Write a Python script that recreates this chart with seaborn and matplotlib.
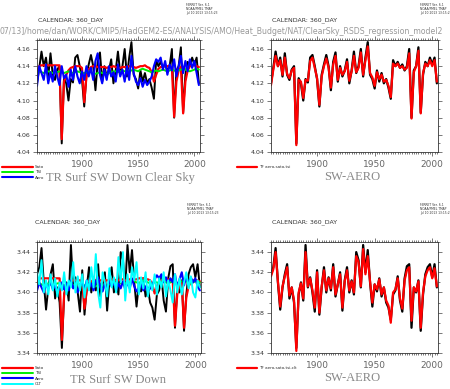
import matplotlib
matplotlib.use("Agg")
import matplotlib.pyplot as plt
import pandas as pd
import seaborn as sns
from matplotlib.ticker import MultipleLocator, FormatStrFormatter

sns.set_style("ticks")
plt.rcParams['font.family'] = ['DejaVu Sans']

# Anos (passo de 2 anos)
years = [1860, 1862, 1864, 1866, 1868, 1870, 1872, 1874, 1876, 1878,
         1880, 1882, 1884, 1886, 1888, 1890, 1892, 1894, 1896, 1898,
         1900, 1902, 1904, 1906, 1908, 1910, 1912, 1914, 1916, 1918,
         1920, 1922, 1924, 1926, 1928, 1930, 1932, 1934, 1936, 1938,
         1940, 1942, 1944, 1946, 1948, 1950, 1952, 1954, 1956, 1958,
         1960, 1962, 1964, 1966, 1968, 1970, 1972, 1974, 1976, 1978,
         1980, 1982, 1984, 1986, 1988, 1990, 1992, 1994, 1996, 1998,
         2000, 2002, 2004]

# --- Clear sky (painel de cima) ---
cs_total = [4.120, 4.138, 4.157, 4.140, 4.150, 4.128, 4.155, 4.130, 4.124, 4.136,
            4.140, 4.050, 4.126, 4.120, 4.100, 4.125, 4.121, 4.150, 4.153, 4.140,
            4.125, 4.093, 4.130, 4.142, 4.153, 4.140, 4.112, 4.145, 4.156, 4.122,
            4.140, 4.128, 4.135, 4.148, 4.120, 4.135, 4.157, 4.132, 4.140, 4.160,
            4.128, 4.150, 4.168, 4.130, 4.125, 4.114, 4.135, 4.122, 4.132, 4.120,
            4.125, 4.115, 4.102, 4.147, 4.140, 4.145, 4.138, 4.142, 4.135, 4.140,
            4.160, 4.080, 4.135, 4.140, 4.162, 4.086, 4.130, 4.145, 4.140, 4.150,
            4.142, 4.150, 4.120]
cs_sato = [4.134, 4.140, 4.141, 4.141, 4.141, 4.141, 4.141, 4.141, 4.141, 4.141,
           4.141, 4.055, 4.122, 4.130, 4.135, 4.138, 4.139, 4.140, 4.140, 4.140,
           4.138, 4.098, 4.128, 4.136, 4.139, 4.140, 4.140, 4.139, 4.139, 4.139,
           4.139, 4.138, 4.139, 4.139, 4.140, 4.139, 4.138, 4.138, 4.139, 4.139,
           4.139, 4.140, 4.140, 4.139, 4.138, 4.139, 4.140, 4.140, 4.141, 4.139,
           4.138, 4.133, 4.122, 4.130, 4.137, 4.139, 4.140, 4.140, 4.140, 4.140,
           4.138, 4.081, 4.122, 4.135, 4.139, 4.085, 4.122, 4.135, 4.140, 4.141,
           4.141, 4.140, 4.139]
cs_tsi = [4.133, 4.134, 4.133, 4.132, 4.133, 4.134, 4.133, 4.132, 4.133, 4.133,
          4.134, 4.133, 4.132, 4.133, 4.134, 4.133, 4.132, 4.133, 4.134, 4.133,
          4.132, 4.132, 4.133, 4.134, 4.133, 4.132, 4.131, 4.132, 4.133, 4.132,
          4.131, 4.131, 4.132, 4.133, 4.134, 4.134, 4.133, 4.134, 4.135, 4.134,
          4.135, 4.134, 4.135, 4.136, 4.135, 4.134, 4.136, 4.137, 4.136, 4.135,
          4.134, 4.133, 4.134, 4.135, 4.134, 4.135, 4.136, 4.135, 4.134, 4.135,
          4.136, 4.135, 4.134, 4.135, 4.136, 4.137, 4.136, 4.135, 4.134, 4.135,
          4.136, 4.137, 4.136]
cs_aero = [4.117, 4.140, 4.132, 4.124, 4.142, 4.120, 4.133, 4.122, 4.140, 4.128,
           4.118, 4.140, 4.126, 4.130, 4.116, 4.136, 4.124, 4.140, 4.128, 4.120,
           4.134, 4.124, 4.140, 4.128, 4.138, 4.124, 4.146, 4.155, 4.130, 4.120,
           4.136, 4.124, 4.140, 4.128, 4.133, 4.122, 4.142, 4.128, 4.136, 4.122,
           4.140, 4.124, 4.152, 4.132, 4.122, 4.118, 4.126, 4.116, 4.124, 4.118,
           4.122, 4.128, 4.140, 4.148, 4.145, 4.150, 4.136, 4.146, 4.130, 4.142,
           4.135, 4.148, 4.128, 4.140, 4.152, 4.132, 4.146, 4.134, 4.148, 4.138,
           4.146, 4.132, 4.118]
cs_fit = [4.118, 4.136, 4.152, 4.140, 4.147, 4.130, 4.150, 4.131, 4.126, 4.135,
          4.138, 4.048, 4.124, 4.122, 4.103, 4.124, 4.123, 4.146, 4.150, 4.138,
          4.126, 4.095, 4.128, 4.140, 4.149, 4.138, 4.115, 4.142, 4.152, 4.124,
          4.138, 4.130, 4.134, 4.145, 4.123, 4.134, 4.152, 4.133, 4.138, 4.156,
          4.130, 4.147, 4.163, 4.132, 4.127, 4.117, 4.133, 4.125, 4.130, 4.122,
          4.124, 4.117, 4.104, 4.143, 4.140, 4.143, 4.138, 4.140, 4.136, 4.138,
          4.155, 4.079, 4.133, 4.140, 4.158, 4.085, 4.132, 4.143, 4.140, 4.147,
          4.140, 4.147, 4.122]

# --- All sky (painel de baixo) ---
as_total = [3.418, 3.425, 3.444, 3.410, 3.383, 3.405, 3.418, 3.428, 3.394, 3.405,
            3.390, 3.345, 3.398, 3.410, 3.392, 3.447, 3.405, 3.415, 3.400, 3.381,
            3.422, 3.378, 3.405, 3.425, 3.400, 3.415, 3.402, 3.428, 3.396, 3.408,
            3.420, 3.382, 3.412, 3.425, 3.400, 3.412, 3.398, 3.440, 3.432, 3.405,
            3.447, 3.420, 3.442, 3.410, 3.386, 3.408, 3.401, 3.414, 3.396, 3.405,
            3.390, 3.385, 3.373, 3.398, 3.402, 3.416, 3.392, 3.381, 3.414, 3.426,
            3.428, 3.365, 3.405, 3.400, 3.412, 3.362, 3.398, 3.418, 3.425, 3.428,
            3.415, 3.428, 3.405]
as_sato = [3.410, 3.414, 3.414, 3.414, 3.414, 3.414, 3.414, 3.414, 3.414, 3.414,
           3.414, 3.353, 3.398, 3.405, 3.409, 3.411, 3.412, 3.412, 3.412, 3.412,
           3.411, 3.384, 3.402, 3.409, 3.411, 3.412, 3.412, 3.412, 3.412, 3.412,
           3.412, 3.412, 3.412, 3.413, 3.413, 3.412, 3.412, 3.413, 3.413, 3.412,
           3.412, 3.413, 3.413, 3.413, 3.413, 3.414, 3.414, 3.414, 3.413, 3.413,
           3.412, 3.408, 3.399, 3.406, 3.410, 3.412, 3.413, 3.413, 3.413, 3.413,
           3.412, 3.367, 3.398, 3.408, 3.411, 3.365, 3.395, 3.406, 3.410, 3.412,
           3.412, 3.412, 3.411]
as_tsi = [3.408, 3.409, 3.408, 3.407, 3.408, 3.409, 3.408, 3.407, 3.408, 3.409,
          3.409, 3.408, 3.407, 3.408, 3.409, 3.408, 3.407, 3.408, 3.409, 3.408,
          3.407, 3.407, 3.408, 3.409, 3.408, 3.407, 3.406, 3.407, 3.408, 3.407,
          3.406, 3.407, 3.408, 3.409, 3.410, 3.409, 3.408, 3.409, 3.410, 3.409,
          3.410, 3.410, 3.411, 3.411, 3.410, 3.409, 3.411, 3.412, 3.411, 3.410,
          3.409, 3.409, 3.410, 3.410, 3.409, 3.410, 3.411, 3.410, 3.409, 3.410,
          3.411, 3.410, 3.409, 3.410, 3.411, 3.412, 3.411, 3.410, 3.409, 3.410,
          3.411, 3.411, 3.410]
as_aero = [3.402, 3.410, 3.405, 3.400, 3.408, 3.404, 3.411, 3.403, 3.407, 3.400,
           3.405, 3.410, 3.403, 3.409, 3.402, 3.412, 3.404, 3.409, 3.400, 3.407,
           3.410, 3.403, 3.412, 3.405, 3.409, 3.402, 3.411, 3.415, 3.405, 3.401,
           3.409, 3.403, 3.412, 3.406, 3.410, 3.402, 3.409, 3.404, 3.411, 3.403,
           3.410, 3.404, 3.414, 3.406, 3.401, 3.404, 3.408, 3.402, 3.406, 3.401,
           3.404, 3.408, 3.413, 3.417, 3.414, 3.418, 3.410, 3.415, 3.408, 3.414,
           3.410, 3.418, 3.405, 3.413, 3.420, 3.407, 3.416, 3.408, 3.415, 3.410,
           3.414, 3.406, 3.402]
as_clt = [3.420, 3.408, 3.432, 3.400, 3.412, 3.398, 3.418, 3.402, 3.414, 3.396,
          3.410, 3.402, 3.420, 3.398, 3.412, 3.405, 3.430, 3.400, 3.416, 3.402,
          3.418, 3.395, 3.412, 3.402, 3.425, 3.405, 3.438, 3.400, 3.385, 3.420,
          3.410, 3.396, 3.424, 3.405, 3.415, 3.400, 3.435, 3.410, 3.440, 3.392,
          3.418, 3.400, 3.425, 3.412, 3.430, 3.398, 3.415, 3.404, 3.420, 3.396,
          3.412, 3.402, 3.418, 3.398, 3.414, 3.405, 3.420, 3.396, 3.412, 3.402,
          3.390, 3.418, 3.400, 3.414, 3.398, 3.410, 3.420, 3.404, 3.416, 3.400,
          3.395, 3.412, 3.405]
as_fit = [3.416, 3.423, 3.440, 3.411, 3.386, 3.406, 3.416, 3.425, 3.397, 3.405,
          3.392, 3.342, 3.400, 3.409, 3.394, 3.440, 3.406, 3.414, 3.402, 3.385,
          3.420, 3.380, 3.406, 3.422, 3.402, 3.414, 3.404, 3.425, 3.398, 3.408,
          3.418, 3.385, 3.411, 3.422, 3.402, 3.411, 3.400, 3.436, 3.430, 3.406,
          3.443, 3.418, 3.436, 3.411, 3.390, 3.408, 3.403, 3.413, 3.398, 3.405,
          3.392, 3.387, 3.370, 3.400, 3.403, 3.414, 3.394, 3.384, 3.412, 3.422,
          3.425, 3.372, 3.405, 3.401, 3.411, 3.365, 3.400, 3.416, 3.422, 3.425,
          3.414, 3.424, 3.406]

clear = pd.DataFrame({'year': years, 'total': cs_total, 'sato': cs_sato,
                      'tsi': cs_tsi, 'aero': cs_aero, 'fit': cs_fit})
allsky = pd.DataFrame({'year': years, 'total': as_total, 'sato': as_sato,
                       'tsi': as_tsi, 'aero': as_aero, 'clt': as_clt, 'fit': as_fit})

W, H = 450, 389
fig = plt.figure(figsize=(W / 100, H / 100), dpi=100)
fig.patch.set_facecolor('white')


def box(x0, y0, x1, y1):
    return [x0 / W, 1 - y1 / H, (x1 - x0) / W, (y1 - y0) / H]


def estilo(ax, ylim):
    ax.set_xlim(1860, 2005)
    ax.set_ylim(*ylim)
    ax.xaxis.set_major_locator(MultipleLocator(50))
    ax.xaxis.set_minor_locator(MultipleLocator(2))
    ax.yaxis.set_major_locator(MultipleLocator(0.02))
    ax.yaxis.set_minor_locator(MultipleLocator(0.01))
    ax.yaxis.set_major_formatter(FormatStrFormatter('%.2f'))
    ax.tick_params(which='both', top=True, right=True, direction='out',
                   width=0.5, color='#444')
    ax.tick_params(which='major', length=3)
    ax.tick_params(which='minor', length=1.5)
    ax.tick_params(axis='x', labelsize=6.5, labelcolor='#666', pad=2.5)
    ax.tick_params(axis='y', labelsize=4.5, labelcolor='#333', pad=1.5)
    for s in ax.spines.values():
        s.set_linewidth(0.6)
        s.set_color('#333')
    ax.set_xlabel('')
    ax.set_ylabel('')


def legenda(ax, x, y, hl, fs=3):
    ax.legend(loc='upper left', bbox_to_anchor=(x / W, 1 - y / H),
              bbox_transform=fig.transFigure, fontsize=fs, frameon=False,
              handlelength=hl, handletextpad=0.5, labelspacing=0.35,
              borderpad=0, borderaxespad=0, labelcolor='#333')


# Painel 1 - clear sky, componentes
ax1 = fig.add_axes(box(37, 40, 200, 152))
sns.lineplot(data=clear, x='year', y='total', color='black', lw=1.4, ax=ax1)
sns.lineplot(data=clear, x='year', y='sato', color='#ff0000', lw=1.6, ax=ax1, label='Sato')
sns.lineplot(data=clear, x='year', y='tsi', color='#00ee00', lw=1.4, ax=ax1, label='TSI')
sns.lineplot(data=clear, x='year', y='aero', color='#0000ff', lw=1.5, ax=ax1, label='Aero')
estilo(ax1, (4.04, 4.1705))
legenda(ax1, 2, 165, 7.4)

# Painel 2 - clear sky, ajuste
ax2 = fig.add_axes(box(271, 40, 438, 152))
sns.lineplot(data=clear, x='year', y='total', color='black', lw=1.6, ax=ax2)
sns.lineplot(data=clear, x='year', y='fit', color='#ff0000', lw=1.6, ax=ax2, label='TF aero,sato,tsi')
estilo(ax2, (4.04, 4.1705))
legenda(ax2, 237, 165, 4.8)

# Painel 3 - all sky, componentes
ax3 = fig.add_axes(box(37, 242, 201, 353))
sns.lineplot(data=allsky, x='year', y='total', color='black', lw=1.4, ax=ax3)
sns.lineplot(data=allsky, x='year', y='sato', color='#ff0000', lw=1.6, ax=ax3, label='Sato')
sns.lineplot(data=allsky, x='year', y='tsi', color='#00ee00', lw=1.4, ax=ax3, label='TSI')
sns.lineplot(data=allsky, x='year', y='aero', color='#0000ff', lw=1.5, ax=ax3, label='Aero')
sns.lineplot(data=allsky, x='year', y='clt', color='#00ffff', lw=1.4, ax=ax3, label='CLT')
estilo(ax3, (3.34, 3.45))
legenda(ax3, 2, 366, 7.4)

# Painel 4 - all sky, ajuste
ax4 = fig.add_axes(box(271, 242, 438, 353))
sns.lineplot(data=allsky, x='year', y='total', color='black', lw=1.6, ax=ax4)
sns.lineplot(data=allsky, x='year', y='fit', color='#ff0000', lw=1.6, ax=ax4, label='TF aero,sato,tsi,clt')
estilo(ax4, (3.34, 3.45))
legenda(ax4, 237, 366, 4.8)

# Textos
fig.text(0, 1 - 32 / H,
         '07/13]/home/dan/WORK/CMIP5/HadGEM2-ES/ANALYSIS/AMO/Heat_Budget/NAT/ClearSky_RSDS_regression_model2',
         fontsize=5.55, color='#999999', ha='left', va='center')

for (cx, cy) in [(38, 20), (272, 20), (35, 222), (272, 222)]:
    fig.text(cx / W, 1 - cy / H, 'CALENDAR: 360_DAY', fontsize=4.5,
             color='#333', ha='left', va='center')

for (fx, fy) in [(186, 3), (420, 3), (187, 203), (420, 203)]:
    fig.text(fx / W, 1 - fy / H, 'FERRET Ver. 6.1\nNOAA/PMEL TMAP\nJul 10 2013 13:15:23',
             fontsize=2.2, color='#333', ha='left', va='top', linespacing=1.0)

titulos = [(120, 178, 'TR Surf SW Down Clear Sky'), (352, 177, 'SW-AERO'),
           (118, 380, 'TR Surf SW Down'), (352, 378, 'SW-AERO')]
for (tx, ty, t) in titulos:
    fig.text(tx / W, 1 - ty / H, t, fontsize=9, family=['Liberation Serif'],
             color='#888888', ha='center', va='center')

plt.savefig('out.png', dpi=100)
